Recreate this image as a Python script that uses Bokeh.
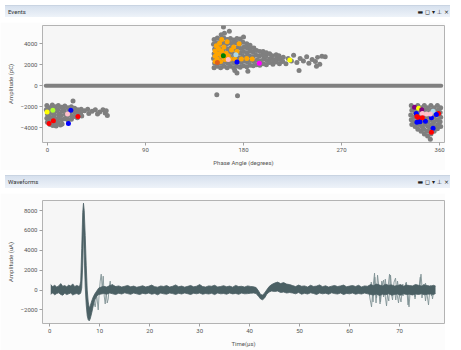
from bokeh.plotting import figure
from bokeh.models import Range1d, FixedTicker, Div, ColumnDataSource
from bokeh.layouts import column
from bokeh.embed import file_html
from bokeh.resources import INLINE

# ---------------- Events (phase-resolved) data ----------------
phase_ticks = [0, 90, 180, 270, 360]
pc_ticks = [-4000, -2000, 0, 2000, 4000]

zero_phase = [-1.5, 361.5]
zero_amp = [0, 0]

c1_phase = [-0.5, -1, 0, -0.5, 0,
            2, 2.5, 1.5, 2, 2.5,
            4.5, 4, 5, 4.5, 4, 5,
            7, 7.5, 6.5, 7, 7.5,
            10, 9.5, 10.5, 10, 9.5,
            13, 13.5, 12.5, 13, 13.5,
            16, 15.5, 16.5, 16,
            19, 19.5, 18.5, 19,
            22, 22.5, 21.5, 22,
            25, 25.5, 24.5,
            28, 28.5, 27.5,
            31, 30.5, 31.5,
            34, 37, 38, 41, 44, 46, 48, 51, 53, 55, 54, 23.5, 8, 12]
c1_amp = [-1900, -2300, -2700, -3100, -3500,
          -2100, -2500, -2900, -3300, -3700,
          -1850, -2250, -2650, -3050, -3450, -3800,
          -2000, -2400, -2800, -3200, -3600,
          -1900, -2300, -2700, -3100, -3500,
          -2050, -2450, -2850, -3250, -3650,
          -1950, -2350, -2750, -3150,
          -2100, -2500, -2900, -3300,
          -2000, -2400, -2800, -3200,
          -2150, -2550, -2950,
          -2300, -2700, -3050,
          -2250, -2600, -2900,
          -2400, -2250, -2650, -2450, -2300, -2700, -2500, -2300, -2600, -2850, -2400, -1450, -3850, -3750]

c2_phase = [153, 153.5, 152.5, 153, 153.5, 152.5, 153,
            156, 156.5, 155.5, 156, 156.5, 155.5, 156,
            159, 159.5, 158.5, 159, 159.5, 158.5, 159, 159.5,
            162, 162.5, 161.5, 162, 162.5, 161.5, 162, 162.5, 161.6,
            165, 165.5, 164.5, 165, 165.5, 164.5, 165,
            168, 168.5, 167.5, 168, 168.5, 167.5, 168, 167,
            171, 171.5, 170.5, 171, 171.5, 170.5, 171,
            174, 174.5, 173.5, 174, 174.5, 173.5, 174,
            177, 177.5, 176.5, 177, 177.5, 176.5, 177,
            180, 180.5, 179.5, 180, 180.5, 179.5, 180,
            183, 183.5, 182.5, 183, 183.5, 183,
            186, 186.5, 185.5, 186, 186.5, 186,
            189, 189.5, 188.5, 189, 189.5,
            192, 192.5, 191.5, 192,
            195, 195.5, 194.5, 195,
            198, 198.5, 197.5, 198,
            201, 201.5, 200.5, 201,
            204, 204.5, 204,
            207, 207.5, 206.5,
            210, 210.5, 210,
            213, 213.5, 212.5,
            216, 216.5,
            219, 221, 224, 226, 229, 232, 235, 238, 240, 243, 246, 248, 250, 252, 255,
            247, 231, 174, 184, 172, 155.5, 174.5]
c2_amp = [1700, 2150, 2600, 3050, 3500, 3950, 4400,
          1850, 2300, 2750, 3200, 3650, 4100, 4550,
          1700, 2150, 2600, 3050, 3500, 3950, 4400, 4850,
          1850, 2300, 2750, 3200, 3650, 4100, 4550, 5000, 5600,
          1700, 2150, 2600, 3050, 3500, 3950, 4400,
          1850, 2300, 2750, 3200, 3650, 4100, 4500, 5200,
          1700, 2150, 2600, 3050, 3500, 3950, 4350,
          1850, 2300, 2750, 3200, 3650, 4100, 4500,
          1750, 2200, 2650, 3100, 3550, 4000, 4450,
          1900, 2350, 2800, 3250, 3700, 4150, 4650,
          1800, 2250, 2700, 3150, 3600, 4000,
          1950, 2400, 2850, 3300, 3650, 3850,
          1900, 2300, 2750, 3200, 3600,
          2000, 2450, 2900, 3350,
          1950, 2350, 2800, 3250,
          2100, 2550, 2950, 3250,
          2000, 2400, 2800, 3150,
          2200, 2600, 3050,
          2050, 2450, 2850,
          2250, 2650, 2950,
          2100, 2500, 2850,
          2300, 2700,
          2100, 2600, 2350, 2900, 2200, 2600, 2350, 2750, 2150, 2500, 2300, 2700, 2050, 2800, 2750,
          1850, 1450, 1200, 1380, 1450, -870, -960]

c3_phase = [334, 334.5, 333.5, 334, 334.5,
            337, 337.5, 336.5, 337, 337.5,
            340, 340.5, 339.5, 340, 340.5, 340,
            343, 343.5, 342.5, 343, 343.5, 343,
            346, 346.5, 345.5, 346, 346.5, 345.5, 346,
            349, 349.5, 348.5, 349, 349.5, 348.5, 349,
            352, 352.5, 351.5, 352, 352.5, 351.5, 352, 351.5,
            355, 355.5, 354.5, 355, 355.5, 355,
            358, 358.5, 357.5, 358, 358.5, 358,
            361, 360.5, 361, 360.5, 361]
c3_amp = [-1900, -2350, -2800, -3250, -3700,
          -2100, -2550, -3000, -3450, -3900,
          -1900, -2350, -2800, -3250, -3700, -4150,
          -2100, -2550, -3000, -3450, -3900, -4350,
          -1900, -2350, -2800, -3250, -3700, -4150, -4600,
          -2100, -2550, -3000, -3450, -3900, -4350, -4800,
          -1900, -2350, -2800, -3250, -3700, -4150, -4600, -5100,
          -2100, -2550, -3000, -3450, -3900, -4350,
          -1900, -2350, -2800, -3250, -3700, -4100,
          -2100, -2550, -3000, -3450, -3900]

# coloured (classified) events
col_phase = [154, 154, 154, 155, 156, 157, 157, 158, 159, 160, 160, 162, 163, 164, 165, 168, 169, 171,
             174, 176, 172, 178, 183, 188, 166, 160, 155.5,
             161.5, 156, 173, 166, 174, 194.5, 222.5,
             -0.3, 5, 21.5, 18.5, 1.5, 5.5, 28, 19.3,
             337, 340.7, 343.6, 338.6, 339.2, 340.7, 344.2, 348, 354, 359, 357, 352.5,
             339.2, 342, 347, 344.2, 354, 352.5, 351.5]
col_amp = [2300, 2800, 3300, 3800, 2550, 3050, 3550, 4050, 2300, 2800, 3300, 3700, 2500, 3100, 4200, 2550, 3400, 3700,
           3250, 4000, 2550, 2550, 2600, 2550, 2850, 4400, 3000,
           2850, 2200, 2950, 2500, 2250, 2150, 2450,
           -2500, -2350, -2350, -2700, -3600, -3350, -2950, -3600,
           -2050, -2150, -2300, -2650, -2950, -3050, -2650, -2700, -2450, -2650, -2750, -3050,
           -3500, -3450, -3400, -3050, -4050, -4450, -2700]
col_fill = ["orange"] * 27 + \
           ["green", "#e0601a", "lightblue", "pink", "blue", "magenta", "yellow"] + \
           ["yellow", "greenyellow", "blue", "pink", "red", "red", "red", "blue"] + \
           ["purple", "yellow", "purple", "blue", "red", "red", "pink", "pink", "lightblue", "red", "blue", "blue",
            "blue", "blue", "blue", "red", "blue", "red", "pink"]

# ---------------- Waveform data ----------------
time_ticks = [0, 10, 20, 30, 40, 50, 60, 70]
ua_ticks = [-2000, 0, 2000, 4000, 6000, 8000]

seg1_t = [0.2, 0.6, 1.0, 1.4, 1.8, 2.2, 2.6, 3.0, 3.4, 3.8, 4.2, 4.6, 5.0, 5.4, 5.8]
seg1_hi = [550, 350, 480, 300, 420, 650, 380, 450, 320, 500, 400, 620, 350, 470, 380]
seg1_lo = [-420, -300, -480, -350, -280, -450, -520, -330, -460, -380, -300, -500, -410, -350, -440]

seg2_t = [6.0, 6.2, 6.4, 6.6, 6.75, 6.9, 7.1, 7.3, 7.5, 7.7, 7.9, 8.1, 8.4, 8.7, 9.0, 9.4, 9.8, 10.3]
seg2_hi = [400, 900, 4200, 7800, 8750, 8000, 5500, 2500, 0, -1200, -1800, -1600, -1100, -700, -400, -100, 200, 300]
seg2_lo = [-400, -300, 200, 2500, 6500, 3500, 300, -1500, -2600, -3000, -3100, -2900, -2300, -1600, -1000, -600, -450, -400]

seg3_t = [10.8, 11.4, 12.0, 12.6, 13.2, 13.8, 14.4, 15.0, 15.6, 16.2, 16.8, 17.4, 18.0, 18.6, 19.2, 19.8,
          20.4, 21.0, 21.6, 22.2, 22.8, 23.4, 24.0, 24.6, 25.2, 25.8, 26.4, 27.0, 27.6, 28.2, 28.8, 29.4,
          30.0, 30.6, 31.2, 31.8, 32.4, 33.0, 33.6, 34.2, 34.8, 35.4, 36.0, 36.6, 37.2, 37.8, 38.4, 39.0,
          39.6, 40.2, 40.8]
seg3_hi = [380, 300, 450, 520, 350, 420, 300, 380, 460, 320,
           400, 280, 350, 430, 310, 380, 500, 340, 290, 410,
           360, 450, 300, 380, 520, 330, 400, 290, 370, 460,
           320, 390, 550, 350, 300, 420, 380, 480, 310, 360,
           440, 330, 400, 290, 470, 350, 380, 300, 420, 360, 330]
seg3_lo = [-350, -420, -300, -380, -450, -320, -400, -280, -360, -430,
           -300, -380, -450, -330, -390, -300, -420, -350, -480, -310,
           -380, -420, -300, -360, -440, -330, -400, -290, -370, -450,
           -320, -380, -300, -420, -350, -400, -330, -460, -300, -380,
           -350, -420, -300, -390, -340, -430, -310, -380, -360, -320, -300]

seg4_t = [41.3, 41.8, 42.2, 42.6, 43.0, 43.4, 43.9, 44.4]
seg4_hi = [250, -100, -450, -500, -300, 0, 350, 550]
seg4_lo = [-350, -650, -900, -980, -800, -450, -200, -100]

seg5_t = [45.0, 45.6, 46.2, 46.8, 47.4, 48.0]
seg5_hi = [700, 800, 650, 750, 600, 550]
seg5_lo = [-150, -100, -250, -200, -300, -250]

seg6_t = [48.6, 49.2, 49.8, 50.4, 51.0, 51.6, 52.2, 52.8, 53.4, 54.0, 54.6, 55.2, 55.8, 56.4, 57.0, 57.6,
          58.2, 58.8, 59.4, 60.0, 60.6, 61.2, 61.8, 62.4, 63.0, 63.6]
seg6_hi = [450, 350, 500, 380, 420, 300, 480, 360, 400, 520, 340, 430, 300, 390, 460, 350, 420, 500, 330, 400,
           450, 360, 480, 310, 420, 380]
seg6_lo = [-300, -380, -250, -420, -330, -400, -280, -350, -450, -300, -380, -320, -420, -280, -360, -400,
           -300, -450, -340, -380, -300, -420, -350, -400, -300, -380]

seg7_t = [64.2, 64.8, 65.4, 66.0, 66.6, 67.2, 67.8, 68.4, 69.0, 69.6, 70.2, 70.8, 71.4, 72.0, 72.6, 73.2,
          73.8, 74.4, 75.0, 75.6, 76.2, 76.8, 77.2]
seg7_hi = [550, 450, 600, 500, 420, 580, 480, 520, 400, 460, 550, 380, 500, 450, 420, 560, 480, 400, 520, 450,
           380, 480, 400]
seg7_lo = [-450, -500, -400, -550, -420, -480, -380, -500, -450, -400, -520, -380, -450, -420, -500, -400,
           -450, -380, -480, -420, -400, -450, -350]

trace_a_t = [8.8, 9.1, 9.4, 9.7, 9.9, 10.1, 10.3, 10.5, 10.7, 10.9, 11.1, 11.3, 11.5, 11.7, 11.9, 12.1, 12.3,
             12.5, 12.8, 13.1, 13.4]
trace_a_v = [-1200, -1700, -500, -2000, -300, 900, 1600, 200, 1400, -600, -1400, -200, -1300, -900, 300, 900,
             -200, 600, -300, 400, -100]

trace_b_t = [63.8, 64.1, 64.4, 64.7, 65.0, 65.3, 65.6, 65.9, 66.2, 66.5, 66.8, 67.1, 67.4, 67.7, 68.0, 68.3,
             68.6, 68.9, 69.2, 69.5, 69.8, 70.1, 70.4, 70.7, 71.0, 71.3, 71.6, 71.9, 72.2, 72.5, 72.8, 73.1,
             73.4, 73.7, 74.0, 74.3, 74.6, 74.9, 75.2, 75.5, 75.8, 76.1, 76.4, 76.7, 77.0]
trace_b_v = [200, -900, -1700, 300, 1700, -1300, 1500, 200, -1200, 400, 1000, -500, -1600, 300, 1600, -200,
             -1000, 800, 1200, -400, -1300, 300, 500, -600, 200, 700, -400, -1700, 300, -200, 400, -900,
             200, -300, 500, 1600, -200, 300, 700, -400, -1500, 200, -600, 300, 0]

trace_c_t = [64.0, 64.35, 64.7, 65.05, 65.4, 65.75, 66.1, 66.45, 66.8, 67.15, 67.5, 67.85, 68.2, 68.55, 68.9,
             69.25, 69.6, 69.95, 70.3, 70.65, 71.0, 71.35, 71.7, 72.05, 72.4, 72.75, 73.1, 73.45, 73.8, 74.15,
             74.5, 74.85, 75.2, 75.55, 75.9, 76.25, 76.6, 76.95]
trace_c_v = [-600, 800, -1200, 1300, -800, 600, -1400, 900, -700, 1100, -300, -1100, 1500, -600, 400, -1000,
             900, -500, -1200, 600, -300, 800, -1500, 400, -500, 300, -700, 500, -400, 1300, -800, 600, -1100,
             400, -300, 500, -900, 200]

W = 445
FONT = "Roboto"
TXT = "#555555"


def header(title, h):
    html = (
        f'<div style="position:relative;width:{W}px;height:{h}px;box-sizing:border-box;'
        f'background:linear-gradient(to bottom,#d7e1ee,#eef3f9);border-top:1px solid #c9d4e2;'
        f'font-family:{FONT};font-size:6px;color:#333;line-height:{h - 1}px;overflow:hidden;">'
        f'<span style="position:absolute;left:3px;top:0;">{title}</span>'
        f'<span style="position:absolute;right:1px;top:0;font-family:\'DejaVu Sans\';font-size:6px;color:#222;">'
        f'&#9644; &#9723; &#9662; &#8869; &#215;</span></div>'
    )
    return Div(text=html, width=W, height=h)


def style(p, xlabel, ylabel, xticks, yticks):
    p.background_fill_color = "#f6f6f6"
    p.border_fill_color = "#fcfcfc"
    p.outline_line_color = "#b3b3b3"
    p.grid.visible = False
    p.xaxis.axis_label = xlabel
    p.yaxis.axis_label = ylabel
    p.xaxis.ticker = FixedTicker(ticks=xticks)
    p.yaxis.ticker = FixedTicker(ticks=yticks)
    for ax in p.axis:
        ax.axis_line_color = None
        ax.major_tick_line_color = "#a0a0a0"
        ax.major_tick_out = 3
        ax.major_tick_in = 0
        ax.minor_tick_line_color = None
        ax.major_label_text_font = FONT
        ax.major_label_text_font_size = "6px"
        ax.major_label_text_color = TXT
        ax.major_label_standoff = 2
        ax.axis_label_text_font = FONT
        ax.axis_label_text_font_size = "6px"
        ax.axis_label_text_font_style = "normal"
        ax.axis_label_text_color = TXT
        ax.axis_label_standoff = 4


# ---------------- Events figure ----------------
p1 = figure(width=W, height=148, x_range=Range1d(-4.5, 364.5), y_range=Range1d(-5420, 5740),
            output_backend="svg", toolbar_location=None,
            min_border_left=38, min_border_right=1, min_border_top=3, min_border_bottom=28)
style(p1, "Phase Angle (degrees)", "Amplitude (pC)", phase_ticks, pc_ticks)

p1.line(zero_phase, zero_amp, line_width=4, color="#808080", line_cap="round")
gray_phase = c1_phase + c2_phase + c3_phase
gray_amp = c1_amp + c2_amp + c3_amp
p1.scatter(gray_phase, gray_amp, size=5, fill_color="#7f7f7f", line_color=None)
csrc = ColumnDataSource(dict(x=col_phase, y=col_amp, c=col_fill))
p1.scatter("x", "y", source=csrc, size=5, fill_color="c", line_color=None)

# ---------------- Waveforms figure ----------------
p2 = figure(width=W, height=158, x_range=Range1d(-1.45, 79.0), y_range=Range1d(-3370, 9020),
            output_backend="svg", toolbar_location=None,
            min_border_left=42, min_border_right=1, min_border_top=7, min_border_bottom=28)
style(p2, "Time(μs)", "Amplitude (uA)", time_ticks, ua_ticks)

band_t = seg1_t + seg2_t + seg3_t + seg4_t + seg5_t + seg6_t + seg7_t
band_hi = seg1_hi + seg2_hi + seg3_hi + seg4_hi + seg5_hi + seg6_hi + seg7_hi
band_lo = seg1_lo + seg2_lo + seg3_lo + seg4_lo + seg5_lo + seg6_lo + seg7_lo

for tt, vv in ((trace_a_t, trace_a_v), (trace_b_t, trace_b_v), (trace_c_t, trace_c_v)):
    p2.line(tt, vv, line_width=1, color="#7d8f92", alpha=0.85)
p2.varea(x=band_t, y1=band_lo, y2=band_hi, fill_color="#4b6064")
p2.line(band_t, band_hi, line_width=0.8, color="#4b6064")
p2.line(band_t, band_lo, line_width=0.8, color="#4b6064")

layout = column(header("Events", 12), p1, header("Waveforms", 13), p2, spacing=0)

open("out.html", "w").write(file_html(layout, INLINE))
